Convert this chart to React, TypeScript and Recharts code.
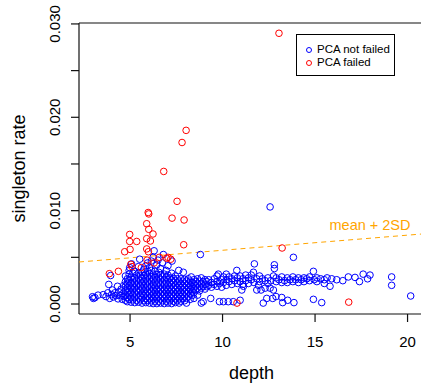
import React from "react";
import {
  ScatterChart,
  Scatter,
  XAxis,
  YAxis,
  ReferenceLine,
  ReferenceDot,
  Label,
} from "recharts";

// depth vs singleton rate (rate in units of 1e-3)
const notFailed: [number, number][] = [
  [2.97, 0.78], [3.02, 0.6], [3.1, 0.68], [3.27, 0.95],
  [3.55, 1.0], [3.7, 0.8], [3.8, 1.2], [3.85, 2.1], [3.95, 3.05], [3.9, 0.6],
  [4.0, 1.0], [4.05, 1.5], [4.1, 0.75], [4.18, 1.2], [4.25, 0.9], [4.32, 1.9],
  [4.35, 0.55], [4.4, 1.3], [4.48, 0.9], [4.52, 1.6], [4.58, 0.5], [4.62, 1.15],
  [4.66, 2.0], [4.68, 0.8],
  [4.75, 0.4], [4.75, 0.9], [4.75, 1.4], [4.75, 1.9], [4.75, 2.4], [4.75, 3.0],
  [4.85, 0.25], [4.85, 0.7], [4.85, 1.2], [4.85, 1.7], [4.85, 2.2], [4.85, 2.7],
  [4.95, 0.5], [4.95, 1.0], [4.95, 1.5], [4.95, 2.0], [4.95, 2.6], [4.95, 3.2], [4.95, 3.6], [4.98, 3.9],
  [5.05, 0.2], [5.05, 0.75], [5.05, 1.25], [5.05, 1.8], [5.05, 2.3], [5.05, 2.85], [5.08, 4.3],
  [5.15, 0.45], [5.15, 1.0], [5.15, 1.55], [5.15, 2.05], [5.15, 2.6], [5.15, 3.3],
  [5.25, 0.15], [5.25, 0.7], [5.25, 1.2], [5.25, 1.75], [5.25, 2.25], [5.25, 2.8], [5.25, 3.5],
  [5.35, 0.4], [5.35, 0.95], [5.35, 1.45], [5.35, 2.0], [5.35, 2.5], [5.35, 3.1],
  [5.45, 0.2], [5.45, 0.65], [5.45, 1.2], [5.45, 1.7], [5.45, 2.2], [5.45, 2.75], [5.45, 3.3], [5.45, 4.0],
  [5.52, 4.8],
  [5.55, 0.45], [5.55, 0.9], [5.55, 1.45], [5.55, 1.95], [5.55, 2.5], [5.55, 3.0],
  [5.65, 0.1], [5.65, 0.65], [5.65, 1.15], [5.65, 1.7], [5.65, 2.25], [5.65, 2.8], [5.65, 3.4],
  [5.75, 0.35], [5.75, 0.9], [5.75, 1.4], [5.75, 1.95], [5.75, 2.45], [5.75, 3.05], [5.75, 3.7],
  [5.85, 0.15], [5.85, 0.6], [5.85, 1.1], [5.85, 1.6], [5.85, 2.15], [5.85, 2.7], [5.85, 3.2], [5.85, 4.1],
  [5.95, 0.4], [5.95, 0.85], [5.95, 1.35], [5.95, 1.9], [5.95, 2.4], [5.95, 2.95], [5.95, 3.5], [5.95, 4.4],
  [6.05, 0.1], [6.05, 0.6], [6.05, 1.1], [6.05, 1.6], [6.05, 2.15], [6.05, 2.7], [6.05, 3.25], [6.05, 3.9],
  [6.15, 0.35], [6.15, 0.85], [6.15, 1.35], [6.15, 1.85], [6.15, 2.4], [6.15, 2.9], [6.15, 3.6], [6.15, 4.6],
  [6.25, 0.05], [6.25, 0.55], [6.25, 1.05], [6.25, 1.6], [6.25, 2.1], [6.25, 2.65], [6.25, 3.2], [6.25, 5.0],
  [6.3, 5.7],
  [6.35, 0.3], [6.35, 0.8], [6.35, 1.3], [6.35, 1.8], [6.35, 2.35], [6.35, 2.9], [6.35, 3.5],
  [6.45, 0.05], [6.45, 0.55], [6.45, 1.0], [6.45, 1.55], [6.45, 2.05], [6.45, 2.6], [6.45, 3.15], [6.45, 4.2],
  [6.51, 4.7],
  [6.55, 0.3], [6.55, 0.8], [6.55, 1.3], [6.55, 1.8], [6.55, 2.3], [6.55, 2.85], [6.55, 3.4],
  [6.65, 0.1], [6.65, 0.55], [6.65, 1.05], [6.65, 1.55], [6.65, 2.05], [6.65, 2.6], [6.65, 3.1], [6.65, 3.8],
  [6.75, 0.35], [6.75, 0.85], [6.75, 1.3], [6.75, 1.8], [6.75, 2.35], [6.75, 2.9], [6.75, 4.4],
  [6.8, 5.3],
  [6.85, 0.05], [6.85, 0.6], [6.85, 1.05], [6.85, 1.55], [6.85, 2.1], [6.85, 2.6], [6.85, 3.2],
  [6.95, 0.3], [6.95, 0.8], [6.95, 1.3], [6.95, 1.8], [6.95, 2.35], [6.95, 2.85], [6.95, 3.6],
  [7.05, 0.1], [7.05, 0.55], [7.05, 1.05], [7.05, 1.55], [7.05, 2.05], [7.05, 2.6], [7.05, 3.1], [7.05, 4.1],
  [7.15, 0.35], [7.15, 0.8], [7.15, 1.3], [7.15, 1.8], [7.15, 2.3], [7.15, 2.8],
  [7.25, 0.05], [7.25, 0.6], [7.25, 1.05], [7.25, 1.55], [7.25, 2.05], [7.25, 2.55], [7.25, 3.3],
  [7.27, 4.6],
  [7.35, 0.3], [7.35, 0.8], [7.35, 1.3], [7.35, 1.8], [7.35, 2.3], [7.35, 2.75],
  [7.45, 0.15], [7.45, 0.55], [7.45, 1.05], [7.45, 1.55], [7.45, 2.0], [7.45, 2.5], [7.45, 3.0],
  [7.55, 0.35], [7.55, 0.8], [7.55, 1.3], [7.55, 1.75], [7.55, 2.25], [7.55, 2.7],
  [7.63, 3.6],
  [7.65, 0.1], [7.65, 0.55], [7.65, 1.05], [7.65, 1.5], [7.65, 2.0], [7.65, 2.45],
  [7.75, 0.3], [7.75, 0.8], [7.75, 1.25], [7.75, 1.75], [7.75, 2.2], [7.75, 2.7],
  [7.85, 0.6], [7.85, 1.05], [7.85, 1.5], [7.85, 1.95], [7.85, 2.45],
  [7.88, 3.4],
  [7.95, 0.35], [7.95, 0.85], [7.95, 1.3], [7.95, 1.75], [7.95, 2.2], [7.95, 2.65],
  [8.05, 0.1], [8.05, 0.6], [8.05, 1.1], [8.05, 1.5], [8.05, 2.0], [8.05, 2.45],
  [8.15, 0.8], [8.15, 1.3], [8.15, 1.75], [8.15, 2.2], [8.15, 2.7],
  [8.25, 0.5], [8.25, 1.05], [8.25, 1.55], [8.25, 2.0], [8.25, 2.45],
  [8.31, 2.9],
  [8.35, 0.9], [8.35, 1.4], [8.35, 1.85], [8.35, 2.3],
  [8.45, 0.6], [8.45, 1.2], [8.45, 1.7], [8.45, 2.15], [8.45, 2.6],
  [8.55, 1.5], [8.55, 1.95], [8.55, 2.4],
  [8.65, 0.95], [8.65, 1.7], [8.65, 2.2], [8.65, 2.7],
  [8.75, 1.4], [8.75, 1.9], [8.75, 2.45],
  [8.8, 5.3],
  [8.85, 0.1], [8.85, 1.7], [8.85, 2.2], [8.85, 2.8],
  [8.95, 0.25], [8.95, 1.9], [8.95, 2.4],
  [9.05, 1.6], [9.05, 2.1], [9.05, 2.6],
  [9.15, 1.85], [9.15, 2.4],
  [9.25, 2.0], [9.25, 2.6],
  [9.36, 0.6],
  [9.4, 1.8], [9.4, 2.3],
  [9.55, 2.1], [9.55, 2.7],
  [9.7, 1.9], [9.7, 2.4], [9.7, 3.0],
  [9.77, 3.2],
  [9.83, 0.25], [9.83, 2.2],
  [9.95, 1.8], [9.95, 2.6],
  [10.05, 0.25], [10.05, 2.3], [10.05, 2.9],
  [10.2, 2.0], [10.2, 2.6], [10.2, 3.2],
  [10.31, 0.25],
  [10.35, 2.4], [10.35, 2.9],
  [10.5, 2.1], [10.5, 2.7],
  [10.58, 0.25],
  [10.65, 2.5], [10.65, 3.0],
  [10.77, 3.6],
  [10.8, 2.2], [10.8, 2.8],
  [10.95, 0.4], [10.95, 2.4], [10.95, 3.0],
  [11.04, 1.5],
  [11.1, 2.1], [11.1, 2.7],
  [11.13, 1.9],
  [11.25, 2.5], [11.25, 3.1],
  [11.4, 2.2], [11.4, 2.8],
  [11.55, 2.6], [11.55, 3.1],
  [11.67, 3.4], [11.72, 4.3], [11.7, 2.3],
  [11.85, 1.5], [11.85, 2.7],
  [11.94, 2.0],
  [12.0, 2.4], [12.0, 3.0],
  [12.08, 1.5], [12.15, 2.7], [12.2, 0.1],
  [12.3, 1.7], [12.3, 2.5],
  [12.39, 0.6],
  [12.45, 2.8], [12.45, 2.2],
  [12.57, 1.7], [12.57, 10.4],
  [12.6, 2.5], [12.71, 0.6],
  [12.75, 1.5], [12.75, 3.0],
  [12.8, 4.2], [12.8, 3.8],
  [12.89, 0.8],
  [12.9, 2.4], [12.9, 2.8],
  [13.05, 2.6],
  [13.2, 0.7], [13.2, 2.3], [13.2, 2.9],
  [13.25, 0.15], [13.35, 2.5], [13.52, 0.4],
  [13.5, 2.8], [13.5, 2.3],
  [13.65, 2.6],
  [13.8, 2.9], [13.8, 2.4],
  [13.83, 5.0], [13.86, 0.15],
  [13.95, 2.6],
  [14.1, 2.8], [14.1, 2.3],
  [14.25, 2.6],
  [14.4, 2.8], [14.4, 2.4],
  [14.55, 2.7],
  [14.7, 2.5], [14.7, 2.9],
  [14.91, 3.5], [14.91, 0.5],
  [14.95, 2.6],
  [15.1, 2.8], [15.1, 2.4],
  [15.3, 2.7], [15.36, 0.15],
  [15.5, 2.6], [15.5, 2.2],
  [15.65, 2.8], [15.81, 1.9], [15.9, 2.7],
  [16.17, 2.6], [16.5, 2.5], [16.8, 2.9], [17.16, 2.85],
  [17.4, 2.4], [17.6, 3.2], [17.84, 2.7], [17.97, 3.1],
  [19.14, 2.9], [19.14, 2.0],
  [20.17, 0.86],
];

const failed: [number, number][] = [
  [13.05, 29.0], [8.03, 18.6], [7.81, 17.3], [6.82, 14.2], [7.54, 11.0],
  [5.98, 9.8], [6.01, 9.65], [7.27, 9.2], [7.92, 9.0], [5.9, 8.6],
  [6.01, 8.0], [4.98, 7.45], [6.24, 7.5], [5.9, 7.0], [4.98, 6.7],
  [5.36, 6.7], [6.1, 6.75], [7.9, 6.35], [5.0, 5.85], [4.71, 5.6],
  [5.9, 5.9], [5.99, 5.6], [13.22, 6.0], [7.05, 5.0], [5.92, 4.7],
  [6.58, 5.0], [6.98, 4.9], [5.04, 4.25], [5.1, 4.0], [5.61, 3.9],
  [4.37, 3.5], [3.88, 3.25], [6.3, 4.4], [7.2, 4.8], [10.78, 0.1],
  [16.82, 0.2],
];

const meanLine: [number, number][] = [
  [2.24, 4.5],
  [20.9, 7.52],
];

const xDomain: [number, number] = [2.24, 20.9];
const yDomain: [number, number] = [-1.07, 30.1];
const xTicks = [5, 10, 15, 20];
const yTicks = [0, 5, 10, 15, 20, 25, 30];
const yLabels: Record<number, string> = { 0: "0.000", 10: "0.010", 20: "0.020", 30: "0.030" };

const blueData = notFailed.map(([x, y]) => ({ x, y }));
const redData = failed.map(([x, y]) => ({ x, y }));

const FONT = "'Liberation Sans', Arial, Helvetica, sans-serif";

const ring = (color: string) => (p: any) =>
  <circle cx={p.cx} cy={p.cy} r={3.3} fill="none" stroke={color} strokeWidth={1} />;

// tick mark + label; position comes from the axis scale
const XTick = (p: any) => (
  <g>
    <path d={`M${p.x},${p.y - 10}v8`} stroke="#111" strokeWidth={1.2} fill="none" />
    <text x={p.x} y={p.y + 23} textAnchor="middle" fontSize={15} fill="#000" fontFamily={FONT}>
      {p.payload.value}
    </text>
  </g>
);

const YTick = (p: any) => {
  const label = yLabels[p.payload.value];
  const tx = p.x - 9;
  return (
    <g>
      <path d={`M${p.x + 2},${p.y}h8`} stroke="#111" strokeWidth={1.2} fill="none" />
      {label ? (
        <text
          x={tx}
          y={p.y}
          textAnchor="middle"
          fontSize={15}
          fill="#000"
          fontFamily={FONT}
          transform={`rotate(-90, ${tx}, ${p.y})`}
        >
          {label}
        </text>
      ) : null}
    </g>
  );
};

function LegendBox() {
  const row = (color: string, text: string) => (
    <div style={{ display: "flex", alignItems: "center", height: 13.4 }}>
      <span
        style={{
          display: "inline-block",
          width: 4,
          height: 4,
          marginLeft: 9,
          borderRadius: "50%",
          border: `1px solid ${color}`,
        }}
      />
      <span style={{ fontSize: 11.5, marginLeft: 5 }}>{text}</span>
    </div>
  );
  return (
    <div
      style={{
        position: "absolute",
        left: 296,
        top: 34,
        width: 99,
        height: 42,
        boxSizing: "border-box",
        border: "1px solid #000",
        background: "#fff",
        fontFamily: FONT,
        lineHeight: 1,
        paddingTop: 8,
      }}
    >
      {row("#0000FF", "PCA not failed")}
      {row("#FF0000", "PCA failed")}
    </div>
  );
}

export default function App() {
  return (
    <div
      style={{
        position: "absolute",
        left: 0,
        top: 0,
        width: 421,
        height: 385,
        overflow: "hidden",
        background: "#fff",
        fontFamily: FONT,
      }}
    >
      <ScatterChart width={430} height={385} margin={{ top: 23, right: 5.8, bottom: 0, left: 0 }}>
        <XAxis
          type="number"
          dataKey="x"
          domain={xDomain}
          ticks={xTicks}
          allowDataOverflow
          height={71}
          tickSize={8}
          tick={<XTick />}
          axisLine={false}
          tickLine={false}
        >
          <Label
            content={(props: any) => (
              <text x={props.viewBox.x + props.viewBox.width / 2} y={379} textAnchor="middle" fontSize={18} fontFamily={FONT} fill="#000">
                depth
              </text>
            )}
          />
        </XAxis>
        <YAxis
          type="number"
          dataKey="y"
          domain={yDomain}
          ticks={yTicks}
          allowDataOverflow
          width={79}
          tickSize={8}
          tick={<YTick />}
          axisLine={false}
          tickLine={false}
        >
          <Label
            content={(props: any) => {
              const cy = props.viewBox.y + props.viewBox.height / 2;
              return (
                <text x={25} y={cy} textAnchor="middle" fontSize={18} fontFamily={FONT} fill="#000" transform={`rotate(-90, 25, ${cy})`}>
                  singleton rate
                </text>
              );
            }}
          />
        </YAxis>
        {/* plot frame: left, top and bottom edges */}
        <ReferenceLine
          segment={[{ x: xDomain[0], y: yDomain[0] }, { x: xDomain[0], y: yDomain[1] }]}
          stroke="#111"
          strokeWidth={1.2}
          ifOverflow="visible"
        />
        <ReferenceLine
          segment={[{ x: xDomain[0], y: yDomain[1] }, { x: xDomain[1], y: yDomain[1] }]}
          stroke="#111"
          strokeWidth={1.2}
          ifOverflow="visible"
        />
        <ReferenceLine
          segment={[{ x: xDomain[0], y: yDomain[0] }, { x: xDomain[1], y: yDomain[0] }]}
          stroke="#111"
          strokeWidth={1.2}
          ifOverflow="visible"
        />
        <ReferenceLine
          segment={[
            { x: meanLine[0][0], y: meanLine[0][1] },
            { x: meanLine[1][0], y: meanLine[1][1] },
          ]}
          stroke="#FFA500"
          strokeDasharray="5 4"
          strokeWidth={1}
        />
        <ReferenceDot
          x={17.97}
          y={8.47}
          r={0}
          fill="none"
          stroke="none"
          label={{ value: "mean + 2SD", position: "center", fill: "#FFA500", fontSize: 14.5, fontFamily: FONT }}
        />
        <Scatter name="PCA not failed" data={blueData} shape={ring("#0000FF")} isAnimationActive={false} />
        <Scatter name="PCA failed" data={redData} shape={ring("#FF0000")} isAnimationActive={false} />
      </ScatterChart>
      <LegendBox />
    </div>
  );
}
